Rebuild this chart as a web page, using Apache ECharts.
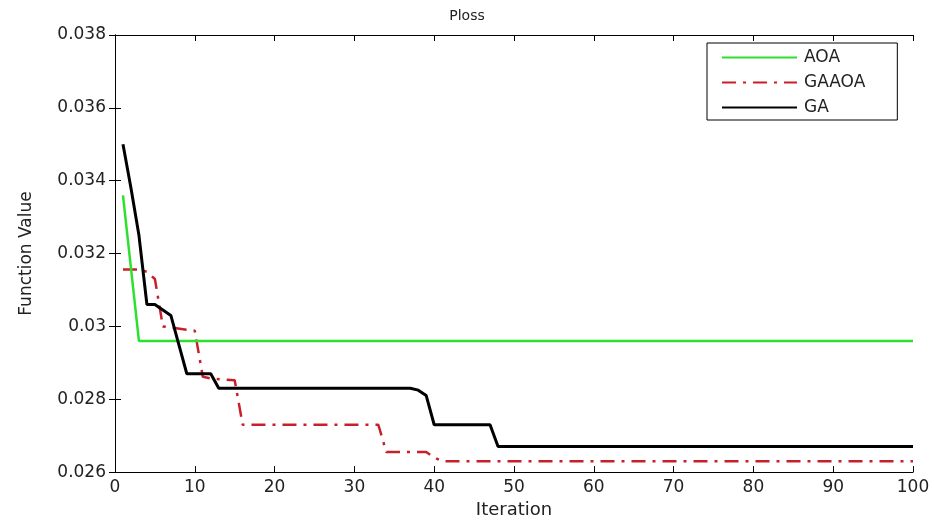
<!DOCTYPE html>
<html>
<head>
<meta charset="utf-8">
<script src="https://cdn.jsdelivr.net/npm/echarts@6/dist/echarts.min.js"></script>
<style>
html,body{margin:0;padding:0;background:#fff;}
#chart{width:934px;height:524px;}
</style>
</head>
<body>
<div id="chart"></div>
<script>
// ---- data ----
const chartTitle = 'Ploss';
const xName = 'Iteration';
const yName = 'Function Value';
const seriesNames = ['AOA', 'GAAOA', 'GA'];

const aoaIter = [1, 2, 3, 100];
const aoaVal  = [0.0336, 0.0316, 0.0296, 0.0296];

const gaaoaIter = [1, 3, 4, 5, 6, 10, 11, 12, 15, 16, 33, 34, 39, 40, 41, 100];
const gaaoaVal  = [0.03156, 0.03156, 0.0315, 0.0313, 0.0300, 0.02988, 0.02862, 0.02857, 0.02852, 0.0273, 0.0273, 0.02655, 0.02655, 0.0264, 0.0263, 0.0263];

const gaIter = [1, 2, 3, 4, 5, 6, 7, 8, 9, 12, 13, 37, 38, 39, 40, 47, 48, 100];
const gaVal  = [0.0350, 0.0338, 0.0325, 0.0306, 0.0306, 0.03045, 0.0303, 0.0295, 0.0287, 0.0287, 0.0283, 0.0283, 0.02825, 0.0281, 0.0273, 0.0273, 0.0267, 0.0267];

const xTicks = {min: 0, max: 100, interval: 10};
const yTicks = {min: 0.026, max: 0.038, interval: 0.002};

function pairs(xs, ys){ return xs.map((x, i) => [x, ys[i]]); }

const chart = echarts.init(document.getElementById('chart'), null, {renderer: 'canvas'});
const FONT = 'DejaVu Sans, Verdana, sans-serif';
const axisFont = {fontFamily: FONT, fontSize: 17, color: '#222'};
const lineAxis = {show: true, lineStyle: {color: '#000', width: 1}};
const tick = {show: true, inside: true, length: 6, lineStyle: {color: '#000'}};

const option = {
  backgroundColor: '#fff',
  animation: false,
  title: {
    text: chartTitle, left: 'center', top: 4,
    textStyle: {fontFamily: FONT, fontSize: 14, fontWeight: 'normal', color: '#222'}
  },
  grid: {left: 115, right: 21, top: 35, bottom: 50, containLabel: false},
  legend: {
    orient: 'vertical', left: 707, top: 43,
    data: seriesNames,
    itemWidth: 75, itemHeight: 14, itemGap: 8,
    padding: [6, 32, 4, 14],
    borderColor: '#000', borderWidth: 1, backgroundColor: '#fff',
    itemStyle: {opacity: 0},
    textStyle: {fontFamily: FONT, fontSize: 17, lineHeight: 17, color: '#222', padding: [0,0,0,2]}
  },
  xAxis: [{
    type: 'value', min: xTicks.min, max: xTicks.max, interval: xTicks.interval,
    name: xName, nameLocation: 'middle', nameGap: 27,
    nameTextStyle: Object.assign({}, axisFont, {fontSize: 18}),
    axisLine: lineAxis, axisTick: tick,
    axisLabel: Object.assign({margin: 7}, axisFont),
    splitLine: {show: false}
  }, {
    type: 'value', position: 'top', min: xTicks.min, max: xTicks.max, interval: xTicks.interval,
    axisLine: lineAxis, axisTick: tick,
    axisLabel: {show: false}, splitLine: {show: false}
  }],
  yAxis: [{
    type: 'value', min: yTicks.min, max: yTicks.max, interval: yTicks.interval,
    name: yName, nameLocation: 'middle', nameGap: 80, nameRotate: 90,
    nameTextStyle: axisFont,
    axisLine: lineAxis, axisTick: tick,
    axisLabel: Object.assign({margin: 9, formatter: v => String(parseFloat(v.toFixed(3)))}, axisFont),
    splitLine: {show: false}
  }, {
    type: 'value', position: 'right', min: yTicks.min, max: yTicks.max, interval: yTicks.interval,
    axisLine: lineAxis, axisTick: tick,
    axisLabel: {show: false}, splitLine: {show: false}
  }],
  series: [{
    name: seriesNames[0], type: 'line', data: pairs(aoaIter, aoaVal),
    showSymbol: false, symbol: 'none', color: '#2ee02e',
    lineStyle: {color: '#2ee02e', width: 2.5}, z: 3
  }, {
    name: seriesNames[1], type: 'line', data: pairs(gaaoaIter, gaaoaVal),
    showSymbol: false, symbol: 'none', color: '#c8202a',
    lineStyle: {color: '#c8202a', width: 2.5, type: [14, 7, 3, 7]}, z: 2
  }, {
    name: seriesNames[2], type: 'line', data: pairs(gaIter, gaVal),
    showSymbol: false, symbol: 'none', color: '#000',
    lineStyle: {color: '#000', width: 3}, z: 4
  }]
};
chart.setOption(option);
</script>
</body>
</html>
